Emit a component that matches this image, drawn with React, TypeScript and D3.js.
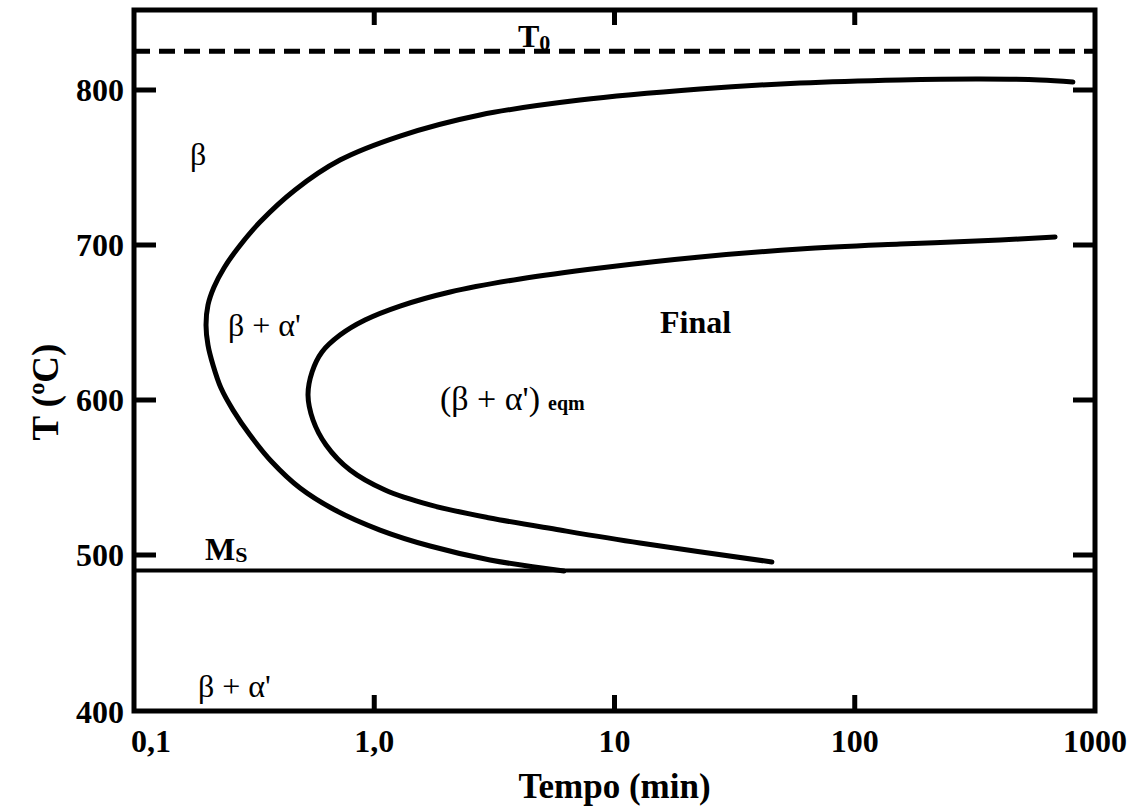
import * as d3 from "d3";
import { useEffect, useRef } from "react";

// time in min, temperature in °C
const outerCurve: [number, number][] = [
  [6.16, 489.7], [3.033, 496.8], [1.707, 505.8], [1.057, 516.1], [0.6865, 529.0],
  [0.491, 543.2], [0.3753, 560.0], [0.304, 577.4], [0.2583, 593.5], [0.2302, 607.7],
  [0.2132, 622.6], [0.2032, 635.5], [0.1994, 648.4], [0.2032, 661.3], [0.2153, 672.9],
  [0.237, 685.2], [0.271, 698.1], [0.3346, 714.8], [0.468, 735.5], [0.72, 754.8],
  [1.28, 770.3], [2.755, 783.9], [7.18, 793.5], [22.7, 800.6], [59.2, 804.5],
  [154.3, 806.5], [332, 807.1], [590, 806.5], [809, 805.2],
];

const innerCurve: [number, number][] = [
  [45.2, 495.5], [12.77, 507.7], [5.93, 516.1], [3.03, 523.9], [1.707, 532.3],
  [1.109, 541.9], [0.793, 554.8], [0.63, 571.0], [0.556, 587.1], [0.53, 603.2],
  [0.551, 618.1], [0.606, 631.0], [0.72, 641.9], [0.915, 651.6], [1.28, 660.6],
  [2.07, 669.7], [4.04, 678.1], [8.7, 685.2], [22.7, 692.3], [59.2, 697.4],
  [154.3, 700.6], [402, 703.2], [682, 705.2],
];

const xTicks = [0.1, 1, 10, 100, 1000];
const xTickLabels = ["0,1", "1,0", "10", "100", "1000"];
const yTicks = [400, 500, 600, 700, 800];
const T0 = 825;
const MS = 490;

const FONT = "'Liberation Serif', 'Times New Roman', serif";

const App = () => {
  const svgRef = useRef<SVGSVGElement>(null);

  useEffect(() => {
    const svg = d3.select(svgRef.current);
    svg.selectAll("*").remove();

    const left = 134;
    const right = 1095;
    const top = 10;
    const bottom = 711;

    const x = d3.scaleLog().domain([0.1, 1000]).range([left, right]);
    const y = d3.scaleLinear().domain([400, 800]).range([710, 90]);

    // T0 dashed line
    svg
      .append("line")
      .attr("x1", left)
      .attr("x2", right)
      .attr("y1", y(T0))
      .attr("y2", y(T0))
      .attr("stroke", "#000")
      .attr("stroke-width", 5)
      .attr("stroke-dasharray", "16,9");

    // Ms line
    svg
      .append("line")
      .attr("x1", left)
      .attr("x2", right)
      .attr("y1", y(MS))
      .attr("y2", y(MS))
      .attr("stroke", "#000")
      .attr("stroke-width", 4);

    const line = d3
      .line<[number, number]>()
      .x((d) => x(d[0]))
      .y((d) => y(d[1]))
      .curve(d3.curveCatmullRom.alpha(0.5));

    [outerCurve, innerCurve].forEach((c) => {
      svg
        .append("path")
        .attr("d", line(c))
        .attr("fill", "none")
        .attr("stroke", "#000")
        .attr("stroke-width", 5)
        .attr("stroke-linecap", "round");
    });

    // ticks
    const tickG = svg.append("g").attr("stroke", "#000").attr("stroke-width", 5);
    xTicks.slice(1, -1).forEach((t) => {
      tickG.append("line").attr("x1", x(t)).attr("x2", x(t)).attr("y1", bottom).attr("y2", bottom - 16);
      tickG.append("line").attr("x1", x(t)).attr("x2", x(t)).attr("y1", top).attr("y2", top + 15);
    });
    yTicks.slice(1).forEach((v) => {
      tickG.append("line").attr("x1", left).attr("x2", left + 22).attr("y1", y(v)).attr("y2", y(v));
      tickG.append("line").attr("x1", right).attr("x2", right - 22).attr("y1", y(v)).attr("y2", y(v));
    });

    // frame
    svg
      .append("rect")
      .attr("x", left)
      .attr("y", top)
      .attr("width", right - left)
      .attr("height", bottom - top)
      .attr("fill", "none")
      .attr("stroke", "#000")
      .attr("stroke-width", 5);

    // tick labels
    const labels = svg.append("g").attr("font-family", FONT).attr("font-weight", "bold").attr("font-size", 32);
    yTicks.forEach((v) => {
      labels
        .append("text")
        .attr("x", left - 10)
        .attr("y", y(v) + (v === 400 ? 2 : 0))
        .attr("dy", "0.34em")
        .attr("text-anchor", "end")
        .text(v);
    });
    xTicks.forEach((t, i) => {
      labels
        .append("text")
        .attr("x", i === 0 ? left - 3 : x(t))
        .attr("y", 752)
        .attr("text-anchor", i === 0 ? "start" : "middle")
        .text(xTickLabels[i]);
    });

    // axis titles
    svg
      .append("text")
      .attr("x", (left + right) / 2)
      .attr("y", 798)
      .attr("text-anchor", "middle")
      .attr("font-family", FONT)
      .attr("font-weight", "bold")
      .attr("font-size", 35)
      .text("Tempo (min)");

    svg
      .append("text")
      .attr("transform", `translate(58, ${y(600) - 8}) rotate(-90)`)
      .attr("text-anchor", "middle")
      .attr("font-family", FONT)
      .attr("font-weight", "bold")
      .attr("font-size", 37)
      .text("T (ºC)");

    // region labels
    const addText = (tx: number, ty: number, txt: string, size: number, bold = false) =>
      svg
        .append("text")
        .attr("x", tx)
        .attr("y", ty)
        .attr("font-family", FONT)
        .attr("font-weight", bold ? "bold" : "normal")
        .attr("font-size", size)
        .text(txt);

    addText(190, 165, "β", 32);
    addText(228, 336, "β + α'", 32);
    addText(198, 697, "β + α'", 32);
    addText(660, 333, "Final", 32, true);

    const eq = addText(440, 410, "(β + α')", 34);
    eq.append("tspan").attr("font-size", 20).attr("font-weight", "bold").attr("dx", 8).text("eqm");

    const ms = addText(205, 560, "M", 32, true);
    ms.append("tspan").attr("font-size", 22).attr("dy", 2).text("S");

    const t0 = addText(518, 47, "T", 32, true);
    t0.append("tspan").attr("font-size", 22).attr("dy", 3).text("0");
  }, []);

  return (
    <svg
      ref={svgRef}
      width={1134}
      height={812}
      style={{ position: "absolute", left: 0, top: 0, background: "#fff" }}
    />
  );
};

export default App;
